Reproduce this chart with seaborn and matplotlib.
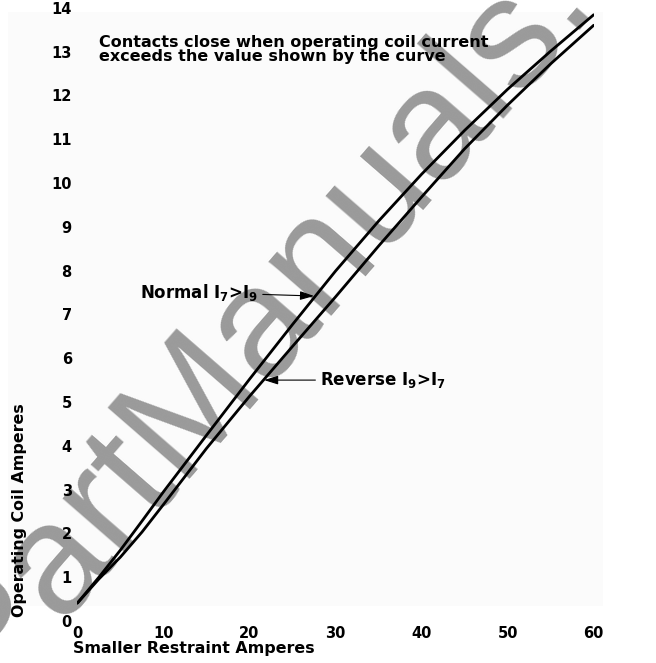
import numpy as np
import pandas as pd
import matplotlib
matplotlib.use("Agg")
import matplotlib.pyplot as plt
import seaborn as sns
from matplotlib.patches import Rectangle

# ---------------------------
# data
# ---------------------------
restraint_amps = [0, 2.5, 5, 7.5, 10, 15, 20, 25, 30, 35, 40, 45, 50, 55, 60]
normal_amps = [0.41, 1.0, 1.62, 2.28, 2.95, 4.24, 5.52, 6.77, 7.99, 9.13,
               10.2, 11.2, 12.14, 13.01, 13.84]
reverse_amps = [0.41, 0.96, 1.46, 2.03, 2.66, 3.94, 5.13, 6.27, 7.4, 8.56,
                9.68, 10.78, 11.78, 12.72, 13.6]

x_ticks = [0, 10, 20, 30, 40, 50, 60]
y_ticks = list(range(0, 15))

df = pd.DataFrame({
    "restraint": restraint_amps * 2,
    "operating": normal_amps + reverse_amps,
    "curve": ["Normal"] * len(restraint_amps) + ["Reverse"] * len(restraint_amps),
})

# ---------------------------
# style
# ---------------------------
sns.set_style("white")
plt.rcParams["font.family"] = ["DejaVu Sans"]
plt.rcParams["font.weight"] = "bold"
plt.rcParams["text.color"] = "black"
plt.rcParams["xtick.color"] = "black"
plt.rcParams["ytick.color"] = "black"
plt.rcParams["mathtext.fontset"] = "dejavusans"
plt.rcParams["mathtext.default"] = "bf"

fig = plt.figure(figsize=(6.56, 6.63), dpi=100)
ax = fig.add_axes([0.118, 0.0633, 0.787, 0.925])
ax.set_facecolor("none")

# faint scan background + watermark
fig.patches.append(Rectangle((8 / 656, 1 - 606 / 663), 595 / 656, 594 / 663,
                             transform=fig.transFigure, facecolor="#fbfbfb",
                             edgecolor="none", zorder=-3))
fig.text(-11 / 656, 1 - 696 / 663, "PartManuals.com", rotation=49, rotation_mode="anchor",
         ha="left", va="baseline", fontsize=113, fontweight="normal",
         family="Liberation Sans", color="#9a9a9a", zorder=-1)

sns.lineplot(data=df, x="restraint", y="operating", units="curve", estimator=None,
             sort=False, color="black", linewidth=2.0, ax=ax,
             solid_joinstyle="round", solid_capstyle="round")

ax.set_xlim(0, 60)
ax.set_ylim(0, 14)
ax.set_xticks(x_ticks)
ax.set_yticks(y_ticks)
ax.tick_params(length=0, labelsize=10.5, pad=4)
ax.tick_params(axis="x", pad=3.5)
ax.set_xlabel("")
ax.set_ylabel("")
sns.despine(ax=ax, left=True, bottom=True)

# axis titles placed like the scan
fig.text(194 / 656, 1 - 648 / 663, "Smaller Restraint Amperes", ha="center",
         va="center", fontsize=11.4)
fig.text(20 / 656, 1 - 510 / 663, "Operating Coil Amperes", rotation=90,
         ha="center", va="center", fontsize=11.4)

fig.text(99 / 656, 1 - 35 / 663,
         "Contacts close when operating coil current\nexceeds the value shown by the curve",
         ha="left", va="top", fontsize=11.5, linespacing=0.95)

arrow = dict(arrowstyle="-|>,head_length=0.7,head_width=0.22", color="black",
             lw=0.8, mutation_scale=12, shrinkA=1, shrinkB=0)
ax.annotate("Normal I$_7$>I$_9$", xy=(27.5, 7.42), xytext=(21.0, 7.5),
            ha="right", va="center", fontsize=12, arrowprops=arrow)
ax.annotate("Reverse I$_9$>I$_7$", xy=(21.7, 5.5), xytext=(28.2, 5.5),
            ha="left", va="center", fontsize=12, arrowprops=arrow)

plt.savefig("out.png", dpi=100)
